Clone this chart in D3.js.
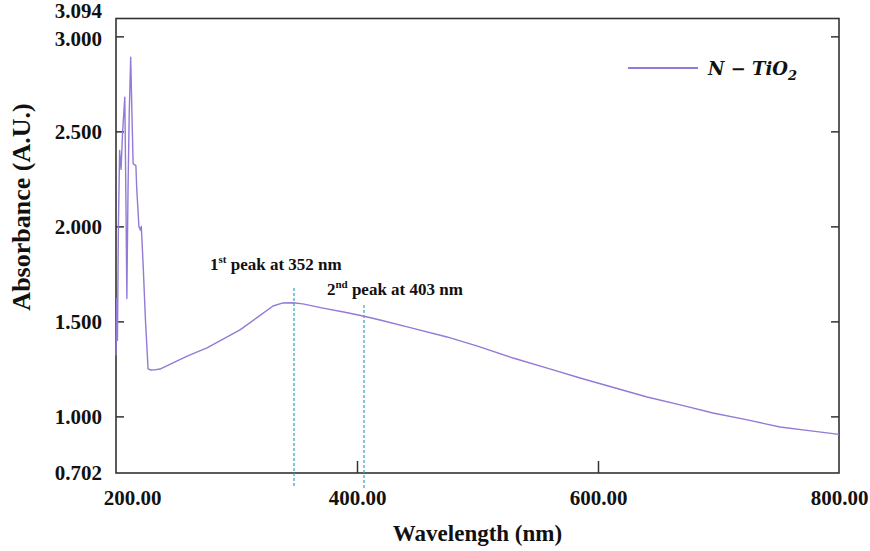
<!DOCTYPE html>
<html>
<head>
<meta charset="utf-8">
<script src="https://cdn.jsdelivr.net/npm/d3@7"></script>
<style>
  body { margin: 0; background: #fff; }
  svg { display: block; }
  text { font-family: "Liberation Serif", "Times New Roman", serif; font-weight: bold; fill: #111; }
</style>
</head>
<body>
<svg width="870" height="551"></svg>
<script>
var width = 870;
var height = 551;

// wavelength (nm) and absorbance
var wavelength = [200.0, 200.6, 201.2, 202.0, 203.0, 204.2, 205.5, 207.3, 208.3, 209.0,
                  210.0, 211.0, 212.2, 213.2, 214.2, 216.5, 217.2, 219.0, 220.3, 221.0,
                  222.5, 224.5, 226.6, 229.0, 232.0, 236.5, 247.3, 260.0, 275.5, 290.0,
                  302.9, 317.0, 330.3, 338.6, 346.9, 355.0, 371.8, 390.0, 405.0, 419.1,
                  445.0, 474.7, 500.0, 529.5, 560.0, 585.1, 610.0, 640.7, 670.0, 695.4,
                  725.0, 751.0, 775.0, 800.0];
var absorbance = [1.32, 1.62, 1.40, 2.00, 2.40, 2.30, 2.50, 2.68, 2.10, 1.62,
                  2.20, 2.60, 2.89, 2.60, 2.33, 2.32, 2.20, 2.00, 1.98, 2.00,
                  1.80, 1.50, 1.25, 1.244, 1.245, 1.249, 1.281, 1.32, 1.36, 1.41,
                  1.455, 1.52, 1.581, 1.597, 1.598, 1.592, 1.570, 1.548, 1.528, 1.507,
                  1.466, 1.418, 1.37, 1.307, 1.25, 1.202, 1.157, 1.102, 1.058, 1.018,
                  0.98, 0.944, 0.925, 0.905];

var xTicks = [200, 400, 600, 800];
var yTicks = [0.702, 1.0, 1.5, 2.0, 2.5, 3.0, 3.094];
var yInnerTicks = [1.0, 1.5, 2.0, 2.5, 3.0];

// peak markers: label, where the dashed line sits, its top and bottom (absorbance units)
var peakNames = ["1", "2"];
var peakSup = ["st", "nd"];
var peakNm = [352, 403];
var peakLineAt = [347.7, 405.8];
var peakLineTop = [1.676, 1.586];
var peakLineBottom = [0.623, 0.623];
var peakLabelAt = [278, 375];
var peakLabelY = [1.77, 1.639];

var data = wavelength.map((w, i) => ({ w: w, a: absorbance[i] }));

var xScale = d3.scaleLinear().domain([200, 800]).range([116, 839]);
var yScale = d3.scaleLinear().domain([0.702, 3.094]).range([473, 18.5]);

var svg = d3.select("svg");

// left axis with labels, inward ticks
var yAxis = d3.axisLeft(yScale)
    .tickValues(yTicks)
    .tickFormat(d3.format(".3f"))
    .tickSize(-8)
    .tickPadding(14);
var gy = svg.append("g")
    .attr("transform", "translate(" + xScale(200) + ",0)")
    .call(yAxis);
gy.selectAll(".tick line").filter(d => yInnerTicks.indexOf(d) < 0).remove();
gy.selectAll(".tick text").filter(d => d == 3.094).attr("dy", "-0.05em");
gy.selectAll(".tick text").filter(d => d == 3.0).attr("dy", "0.42em");

// right axis, ticks only
svg.append("g")
    .attr("transform", "translate(" + xScale(800) + ",0)")
    .call(d3.axisRight(yScale).tickValues(yInnerTicks).tickSize(-8).tickFormat(""));

// bottom axis
var xAxis = d3.axisBottom(xScale)
    .tickValues(xTicks)
    .tickFormat(d3.format(".2f"))
    .tickSize(-12)
    .tickPadding(17);
var gx = svg.append("g")
    .attr("transform", "translate(0," + yScale(0.702) + ")")
    .call(xAxis);
gx.selectAll(".tick line").filter(d => d == 200 || d == 800).remove();
gx.selectAll(".tick text").filter(d => d == 200).attr("dx", 16);

svg.selectAll(".domain").remove();
svg.selectAll(".tick line").attr("stroke", "#333").attr("stroke-width", 1.5);
svg.selectAll(".tick text")
    .attr("fill", "#111")
    .style("font-family", "'Liberation Serif', serif")
    .style("font-weight", "bold")
    .style("font-size", "21px");

// frame
svg.append("rect")
    .attr("x", xScale(200))
    .attr("y", yScale(3.094))
    .attr("width", xScale(800) - xScale(200))
    .attr("height", yScale(0.702) - yScale(3.094))
    .attr("fill", "none")
    .attr("stroke", "#333")
    .attr("stroke-width", 1.6);

// dashed peak lines
svg.selectAll(".peak")
  .data(peakLineAt)
  .enter()
  .append("line")
    .attr("x1", d => xScale(d))
    .attr("x2", d => xScale(d))
    .attr("y1", (d, i) => yScale(peakLineTop[i]))
    .attr("y2", (d, i) => yScale(peakLineBottom[i]))
    .attr("stroke", "#2fa3c6")
    .attr("stroke-width", 1.2)
    .attr("stroke-dasharray", "3,2");

// spectrum
var line = d3.line().x(d => xScale(d.w)).y(d => yScale(d.a));
svg.append("path")
    .datum(data)
    .attr("d", line)
    .attr("fill", "none")
    .attr("stroke", "#9479d6")
    .attr("stroke-width", 1.4)
    .attr("stroke-linejoin", "round");

// peak labels
var labels = svg.selectAll(".plabel")
  .data(peakNames)
  .enter()
  .append("text")
    .attr("x", (d, i) => xScale(peakLabelAt[i]))
    .attr("y", (d, i) => yScale(peakLabelY[i]))
    .style("font-size", "17px");
labels.append("tspan").text(d => d);
labels.append("tspan")
    .attr("dy", -7)
    .style("font-size", "11px")
    .text((d, i) => peakSup[i]);
labels.append("tspan")
    .attr("dy", 7)
    .text((d, i) => " peak at " + peakNm[i] + " nm");

// axis titles
svg.append("text")
    .attr("x", (xScale(200) + xScale(800)) / 2)
    .attr("y", 541)
    .attr("text-anchor", "middle")
    .style("font-size", "23px")
    .text("Wavelength (nm)");

svg.append("text")
    .attr("transform", "translate(30," + 207 + ") rotate(-90)")
    .attr("text-anchor", "middle")
    .style("font-size", "26px")
    .text("Absorbance (A.U.)");

// legend
svg.append("line")
    .attr("x1", 628).attr("x2", 698)
    .attr("y1", 68).attr("y2", 68)
    .attr("stroke", "#9479d6")
    .attr("stroke-width", 2);
var leg = svg.append("text")
    .attr("x", 708)
    .attr("y", 75)
    .style("font-family", "'DejaVu Serif', serif")
    .style("font-style", "italic")
    .style("font-size", "18px");
leg.append("tspan").text("N \u2212 TiO");
leg.append("tspan").attr("dy", 5).style("font-size", "13px").text("2");
</script>
</body>
</html>
